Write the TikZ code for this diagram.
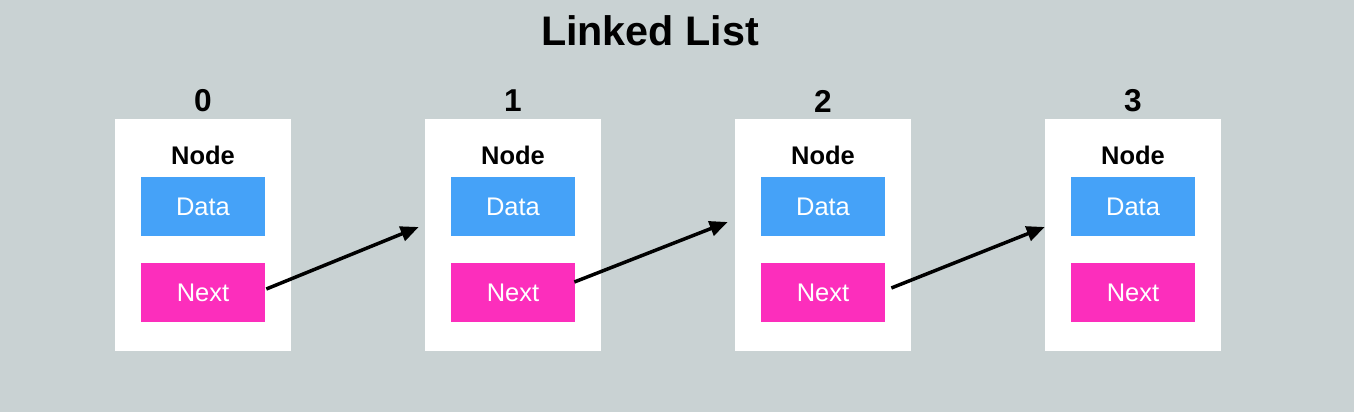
\documentclass[tikz,border=0pt]{standalone}
\usepackage{fontspec}
\setmainfont{Liberation Sans}
\usetikzlibrary{arrows.meta,calc}
\definecolor{bgcol}{RGB}{201,210,211}
\definecolor{datacol}{RGB}{69,162,248}
\definecolor{nextcol}{RGB}{252,46,188}
\tikzset{
  listbox/.style={fill=white, draw=none, minimum width=3.52cm, minimum height=4.64cm, inner sep=0pt},
  databox/.style={fill=datacol, draw=none, minimum width=2.48cm, minimum height=1.18cm, inner sep=0pt, text=white, font=\fontsize{14.5}{17}\selectfont},
  nextbox/.style={fill=nextcol, draw=none, minimum width=2.48cm, minimum height=1.18cm, inner sep=0pt, text=white, font=\fontsize{14.5}{17}\selectfont},
  nodelabel/.style={font=\bfseries\fontsize{14.5}{17}\selectfont, inner sep=0pt},
  idxlabel/.style={font=\bfseries\fontsize{18}{21}\selectfont, inner sep=0pt},
  titlelabel/.style={font=\bfseries\fontsize{23.5}{28}\selectfont, inner sep=0pt},
  link/.style={line width=0.07cm, -{Triangle[length=0.36cm,width=0.3cm]}}
}
\begin{document}
\begin{tikzpicture}[x=0.02cm,y=-0.02cm]
\fill[bgcol] (0,0) rectangle (1354,412);
\useasboundingbox (0,0) rectangle (1354,412);
\node[titlelabel] (title) at (650,31) {Linked List};
\foreach \i in {0,1,2,3} {
  \node[listbox] (box\i) at (203+310*\i,235) {};
  \node[idxlabel] (idx\i) at (203+310*\i,101) {\i};
  \node[nodelabel] (lbl\i) at (203+310*\i,155) {Node};
  \node[databox] (data\i) at (203+310*\i,206.5) {\raisebox{-1.5pt}{Data}};
  \node[nextbox] (next\i) at (203+310*\i,292.5) {\raisebox{-1.5pt}{Next}};
}
\draw[link] ($(next0.east)+(1,-3.5)$) -- ($(box1.west)+(-6,-8)$);
\draw[link] ($(next1.east)+(-1,-10.5)$) -- ($(box2.west)+(-7,-13)$);
\draw[link] ($(next2.east)+(6,-4.5)$) -- ($(box3.west)+(0,-8)$);
\end{tikzpicture}
\end{document}
